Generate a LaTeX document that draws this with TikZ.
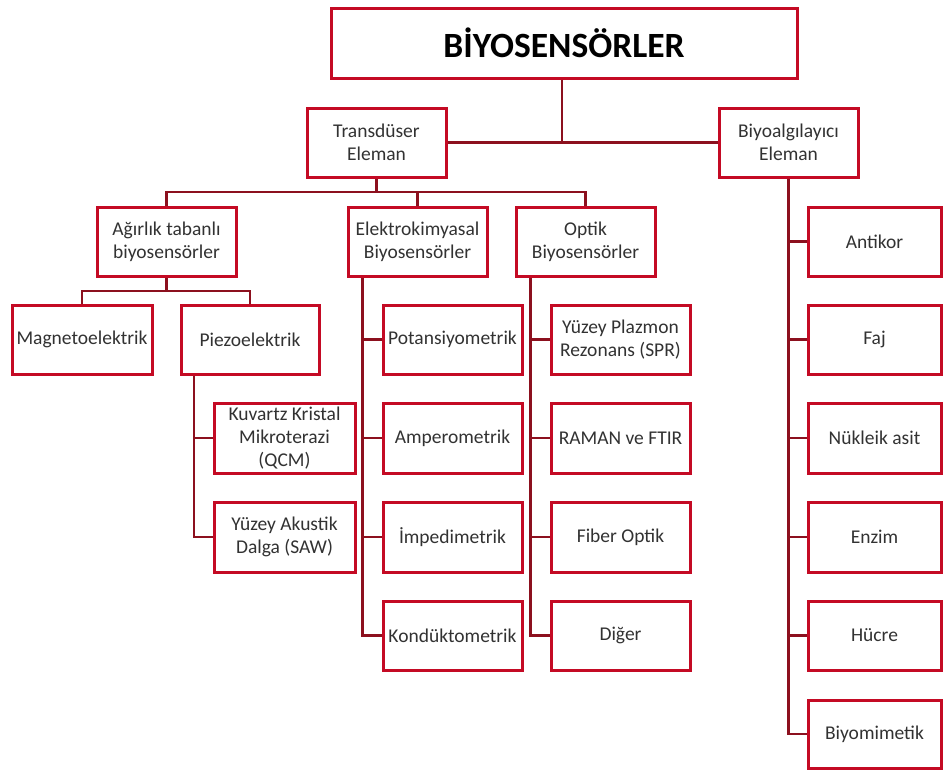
\documentclass[tikz,border=0pt]{standalone}
\usepackage{fontspec}
\setmainfont{Carlito}
\definecolor{boxred}{RGB}{196,10,36}
\definecolor{linered}{RGB}{140,16,30}
\definecolor{txt}{RGB}{50,50,50}
\begin{document}
\begin{tikzpicture}[x=1pt,y=1pt,
  box/.style={draw=boxred, line width=3pt, fill=white, minimum width=139pt, minimum height=69pt,
    inner sep=0pt, align=center, text=txt, font=\fontsize{19.5}{23}\selectfont},
  rbox/.style={box, minimum width=133pt},
  conn/.style={draw=linered, line width=2.6pt}]
\useasboundingbox (0,0) rectangle (944,-772);
\fill[white] (0,0) rectangle (944,-772);
% nodes
\node[box, minimum width=466pt, minimum height=70pt, text=black, font=\fontsize{35.5}{40}\selectfont\bfseries] (top) at (564,-43) {BİYOSENSÖRLER};
\node[box] (trans) at (376.5,-142.5) {Transdüser\\Eleman};
\node[box] (biyo) at (788.5,-142.5) {Biyoalgılayıcı\\Eleman};
\node[box] (agir) at (166.5,-242) {Ağırlık tabanlı\\biyosensörler};
\node[box] (elek) at (417.5,-242) {Elektrokimyasal\\Biyosensörler};
\node[box] (optik) at (585.5,-242) {Optik\\Biyosensörler};
\node[box, minimum width=140pt] (magneto) at (82,-339.5) {Magnetoelektrik};
\node[box, minimum width=138pt] (piezo) at (250,-339.5) {Piezoelektrik};
\node[box, minimum width=141pt, minimum height=70pt] (qcm) at (284.5,-438) {Kuvartz Kristal\\Mikroterazi\\(QCM)};
\node[box, minimum width=141pt, minimum height=70pt] (saw) at (284.5,-537) {Yüzey Akustik\\Dalga (SAW)};
\node[box] (potan) at (452.5,-339.5) {Potansiyometrik};
\node[box, minimum height=70pt] (ampero) at (452.5,-438) {Amperometrik};
\node[box, minimum height=70pt] (imped) at (452.5,-537) {İmpedimetrik};
\node[box] (kondu) at (452.5,-635.5) {Kondüktometrik};
\node[box] (spr) at (620.5,-339.5) {Yüzey Plazmon\\Rezonans (SPR)};
\node[box, minimum height=70pt] (raman) at (620.5,-438) {RAMAN ve FTIR};
\node[box, minimum height=70pt] (fiber) at (620.5,-537) {Fiber Optik};
\node[box] (diger) at (620.5,-635.5) {Diğer};
\node[rbox] (antikor) at (874.5,-241.5) {Antikor};
\node[rbox] (faj) at (874.5,-339.5) {Faj};
\node[rbox, minimum height=70pt] (nuk) at (874.5,-438) {Nükleik asit};
\node[rbox, minimum height=70pt] (enzim) at (874.5,-537) {Enzim};
\node[rbox] (hucre) at (874.5,-635.5) {Hücre};
\node[rbox, minimum height=68pt] (biyom) at (874.5,-734) {Biyomimetik};
% coordinates
\coordinate (bus) at (376,-192);
\coordinate (agbus) at (166,-291);
\coordinate (pz) at (194,0);
\coordinate (ek) at (362.5,0);
\coordinate (op) at (530.5,0);
% connectors
\draw[conn] (trans.east) -- (biyo.west);
\draw[conn] (top.south -| 562,0) -- (trans.east -| 562,0);
\draw[conn] (trans.south) -- (trans.south |- bus);
\draw[conn] (agir.north) -- (agir.north |- bus) -- (optik.north |- bus) -- (optik.north);
\draw[conn] (elek.north) -- (elek.north |- bus);
\draw[conn] (agir.south) -- (agir.south |- agbus);
\draw[conn] (magneto.north) -- (magneto.north |- agbus) -- (piezo.north |- agbus) -- (piezo.north);
\draw[conn] (pz |- piezo.south) |- (saw.west);
\draw[conn] (pz |- qcm.west) -- (qcm.west);
\draw[conn] (ek |- elek.south) |- (kondu.west);
\draw[conn] (ek |- potan.west) -- (potan.west);
\draw[conn] (ek |- ampero.west) -- (ampero.west);
\draw[conn] (ek |- imped.west) -- (imped.west);
\draw[conn] (op |- optik.south) |- (diger.west);
\draw[conn] (op |- spr.west) -- (spr.west);
\draw[conn] (op |- raman.west) -- (raman.west);
\draw[conn] (op |- fiber.west) -- (fiber.west);
\draw[conn] (biyo.south) |- (biyom.west);
\draw[conn] (biyo.south |- antikor.west) -- (antikor.west);
\draw[conn] (biyo.south |- faj.west) -- (faj.west);
\draw[conn] (biyo.south |- nuk.west) -- (nuk.west);
\draw[conn] (biyo.south |- enzim.west) -- (enzim.west);
\draw[conn] (biyo.south |- hucre.west) -- (hucre.west);
\end{tikzpicture}
\end{document}
